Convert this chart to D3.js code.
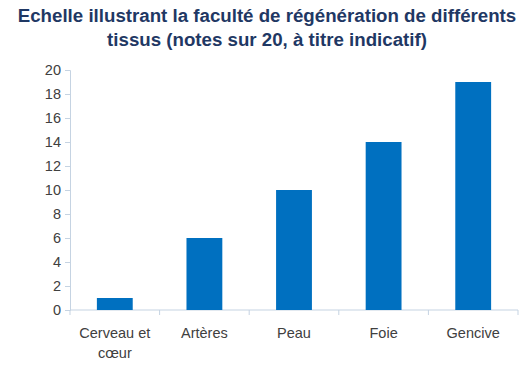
<!DOCTYPE html>
<html>
<head>
<meta charset="utf-8">
<script src="https://cdn.jsdelivr.net/npm/d3@7"></script>
<style>
  body { margin: 0; background: #fff; }
  text { font-family: "Liberation Sans", Arial, sans-serif; }
</style>
</head>
<body>
<div id="chart"></div>
<script>
// Data
var categories = ["Cerveau et cœur", "Artères", "Peau", "Foie", "Gencive"];
var labelLines = [["Cerveau et", "cœur"], ["Artères"], ["Peau"], ["Foie"], ["Gencive"]];
var values = [1, 6, 10, 14, 19];
var yTicks = [0, 2, 4, 6, 8, 10, 12, 14, 16, 18, 20];
var titleLines = ["Echelle illustrant la faculté de régénération de différents",
                  "tissus (notes sur 20, à titre indicatif)"];

var width = 531, height = 366;
var margin = {top: 70, right: 13, bottom: 56, left: 70};

var svg = d3.select("#chart").append("svg")
    .attr("width", width)
    .attr("height", height);

// Title
svg.append("g").selectAll("text")
    .data(titleLines)
    .enter().append("text")
    .attr("x", 267)
    .attr("y", function (d, i) { return 22 + i * 24; })
    .attr("text-anchor", "middle")
    .style("font-size", "18.7px")
    .style("font-weight", "bold")
    .style("fill", "#1f3864")
    .text(function (d) { return d; });

var x = d3.scaleBand()
    .domain(categories)
    .range([margin.left, width - margin.right])
    .paddingInner(0.6)
    .paddingOuter(0.3);

var y = d3.scaleLinear()
    .domain([0, 20])
    .range([height - margin.bottom, margin.top]);

var axisColor = "#c5d3e2";

// y axis
var yAxis = svg.append("g")
    .attr("transform", "translate(" + margin.left + ",0)")
    .call(d3.axisLeft(y).tickValues(yTicks).tickSize(5).tickPadding(4));
yAxis.select(".domain").attr("stroke", axisColor);
yAxis.selectAll(".tick line").attr("stroke", axisColor);
yAxis.selectAll(".tick text")
    .style("font-size", "14.5px")
    .style("fill", "#404040")
    .attr("font-family", null);

// x axis line + category separators
var x0 = margin.left, x1 = width - margin.right, yb = y(0);
var xAxis = svg.append("g");
xAxis.append("line")
    .attr("x1", x0).attr("x2", x1)
    .attr("y1", yb).attr("y2", yb)
    .attr("stroke", axisColor);
var step = x.step();
var bounds = d3.range(categories.length + 1).map(function (i) {
    return x(categories[0]) - x.paddingOuter() * step + i * step;
});
xAxis.selectAll("line.sep")
    .data(bounds)
    .enter().append("line")
    .attr("class", "sep")
    .attr("x1", function (d) { return d; })
    .attr("x2", function (d) { return d; })
    .attr("y1", yb).attr("y2", yb + 5)
    .attr("stroke", axisColor);

// Bars
svg.append("g").selectAll("rect")
    .data(values)
    .enter().append("rect")
    .attr("x", function (d, i) { return x(categories[i]); })
    .attr("width", x.bandwidth())
    .attr("y", function (d) { return y(d); })
    .attr("height", function (d) { return y(0) - y(d); })
    .style("fill", "#0070c0");

// Category labels
var lab = svg.append("g").selectAll("text")
    .data(labelLines)
    .enter().append("text")
    .attr("text-anchor", "middle")
    .attr("x", function (d, i) { return x(categories[i]) + x.bandwidth() / 2; })
    .attr("y", yb + 28)
    .style("font-size", "14.5px")
    .style("fill", "#404040");
lab.selectAll("tspan")
    .data(function (d) { return d; })
    .enter().append("tspan")
    .attr("x", function () { return d3.select(this.parentNode).attr("x"); })
    .attr("dy", function (d, i) { return i ? 20 : 0; })
    .text(function (d) { return d; });
</script>
</body>
</html>
